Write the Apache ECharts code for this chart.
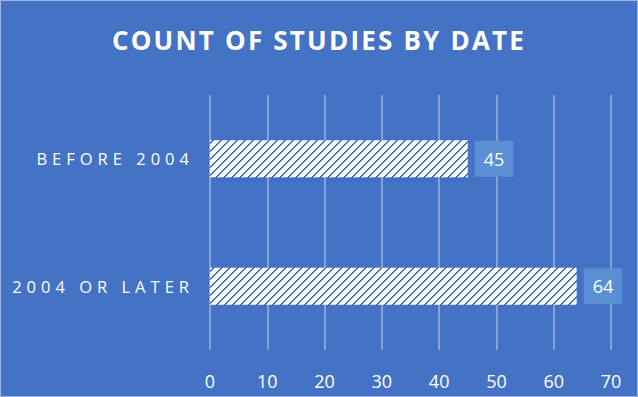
<!DOCTYPE html>
<html>
<head>
<meta charset="utf-8">
<script src="https://cdn.jsdelivr.net/npm/echarts@6/dist/echarts.min.js"></script>
<style>
html,body{margin:0;padding:0;background:#4472C4;}
#chart{width:638px;height:397px;}
</style>
</head>
<body>
<div id="chart"></div>
<script>
const titleText = 'COUNT OF STUDIES BY DATE';
const categories = ['BEFORE 2004', '2004 OR LATER'];
const counts = [45, 64];
const xTicks = [0, 10, 20, 30, 40, 50, 60, 70];

function makeHatch() {
  const c = document.createElement('canvas');
  c.width = 8; c.height = 8;
  const ctx = c.getContext('2d');
  const img = ctx.createImageData(8, 8);
  for (let y = 0; y < 8; y++) {
    for (let x = 0; x < 8; x++) {
      const i = (y * 8 + x) * 4;
      const blue = ((x + y) % 8) < 2;
      img.data[i] = blue ? 0x44 : 255;
      img.data[i + 1] = blue ? 0x72 : 255;
      img.data[i + 2] = blue ? 0xC4 : 255;
      img.data[i + 3] = 255;
    }
  }
  ctx.putImageData(img, 0, 0);
  return c.toDataURL();
}

const chart = echarts.init(document.getElementById('chart'), null, { renderer: 'svg' });
const FONT = '"Open Sans", "Noto Sans", sans-serif';

const option = {
  animation: false,
  backgroundColor: '#4472C4',
  title: {
    text: titleText,
    left: 'center',
    top: 22,
    textStyle: { color: '#ffffff', fontSize: 26, fontWeight: 'bold', fontFamily: FONT }
  },
  grid: { left: 210, right: 27, top: 95, bottom: 47, containLabel: false },
  xAxis: {
    type: 'value',
    min: xTicks[0],
    max: xTicks[xTicks.length - 1],
    interval: 10,
    axisLine: { show: false },
    axisTick: { show: false },
    splitLine: { show: true, lineStyle: { color: 'rgba(255,255,255,0.35)', width: 2 } },
    axisLabel: { color: '#ffffff', fontSize: 18, fontFamily: FONT, margin: 22 }
  },
  yAxis: {
    type: 'category',
    inverse: true,
    data: categories,
    axisLine: { show: false },
    axisTick: { show: false },
    splitLine: { show: false },
    axisLabel: { color: '#ffffff', fontSize: 16.5, fontFamily: FONT, margin: 16 }
  },
  series: [{
    type: 'bar',
    data: counts,
    barWidth: 37,
    itemStyle: { color: { image: makeHatch(), repeat: 'repeat' } },
    label: {
      show: true,
      position: 'right',
      distance: 7,
      color: '#ffffff',
      fontSize: 18,
      fontFamily: FONT,
      backgroundColor: '#5890d3',
      padding: [9, 9, 9, 9]
    }
  }],
  graphic: [{
    type: 'rect',
    shape: { x: 0.5, y: 0.5, width: 637, height: 396 },
    style: { fill: 'none', stroke: '#9db5e0', lineWidth: 1 },
    silent: true
  }]
};
chart.setOption(option);

const spacing = {};
spacing[titleText] = '2.2px';
categories.forEach(c => spacing[c] = '5px');
function applySpacing() {
  document.querySelectorAll('#chart svg text').forEach(t => {
    const s = spacing[t.textContent];
    if (s) t.style.letterSpacing = s;
  });
}
applySpacing();
chart.on('finished', applySpacing);
</script>
</body>
</html>
